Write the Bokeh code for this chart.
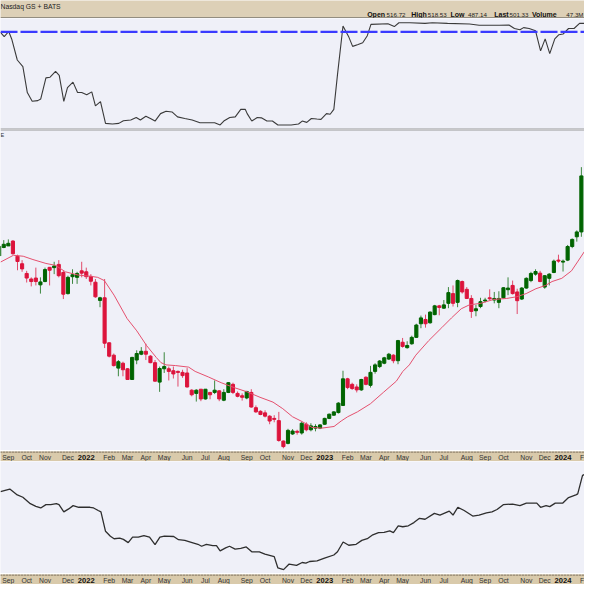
from bokeh.plotting import figure
from bokeh.layouts import column
from bokeh.models import ColumnDataSource, Range1d, Label, Span
from bokeh.core.properties import value
from bokeh.embed import file_html
from bokeh.resources import INLINE

# ---------------- data (weekly bars, week 0 = 2021-08-30) ----------------
opens = [207,215.7,217.3,222.3,206.7,199,189,183.3,184.3,177.3,
         180.7,195.3,195,198.3,190,168.3,185.7,185,191.7,190.7,
         186,180,161.3,164,117.7,105,91.7,96.7,91,80,
         100,106,109,104,97.3,77.3,91,91,89,88.3,
         87.3,86.7,69,65.7,70,60,66.7,66.7,68.3,58.7,
         66.7,75,65.7,63.3,61,66.7,51,47.3,45.7,42.3,
         40,37.7,16.7,14.3,24,26.7,25,34,28.3,30,
         30,34,40,43.3,46,53.3,80.7,75,72.3,69.3,
         82.3,74,88.3,93.3,96.7,101,105,99.3,118.3,112.7,
         116.7,123.3,137.3,141.7,138.3,146.7,155.7,153.3,158.3,168.3,
         159.3,180.7,172.7,163.3,150.7,155,160.7,164,161.7,159.3,
         164,172.3,176.7,170,162.7,174,181.7,188.3,189.3,175,
         184,190,202.7,200.7,202.7,216.7,226.7,231.7]
highs = [219,223.3,224,223.3,208.3,202.7,191.7,185,195,185,
         195,195.7,201,202.7,191.7,186.7,193.3,190.7,201,195,
         188.3,183.3,165,183.3,118.3,106.7,100,98.3,91.7,103.3,
         110,113.3,116.7,105,100,93.3,108,93.3,93.3,89.3,
         90,91.7,70,70,70,70,67.3,79,69,70,
         77.3,76.7,67.7,65.7,68.3,70,53.3,48.3,48.3,43.3,
         43.3,46.7,17.3,29.3,29,28.3,36.7,36,35,34,
         34,40.7,45,47.3,56.7,89,81.7,76.7,75,80.7,
         83.3,94,96.7,100,103.3,107.3,106,120.7,122.7,119.3,
         125,137.3,145.7,146.7,150,156.7,156.7,161.7,175,176.7,
         182.7,181.7,175,166.7,156.7,164,164,172.7,170,170.7,
         175,185,181.7,173.3,175,185,190.7,193.3,191.7,187.3,
         189.3,203.3,208.3,203.3,218.3,225,233.3,298.3]
lows = [205,215,217.3,208.3,192.3,190.7,179.7,175.7,176.7,168.3,
        180,176.7,188.3,185,162.7,167.3,178.3,178.3,185,183.3,
        176.7,164,154.3,112.3,102.7,93.3,83.3,83.3,80,80,
        95.7,105,100,96.7,77.7,67.3,86.7,79,81,72.7,
        81.7,71.7,62.7,57.3,57.7,59.3,59.7,65,57.7,57.7,
        66,65,61.7,58.3,59.7,51,45.7,43.3,41,34,
        36,16,9.3,13.3,23,23.3,23.3,26.7,26.7,26.7,
        29,33.3,39.3,42.7,45,52.7,70,69.3,66.7,68.3,
        74,71.7,86,91.7,95.7,100,96.7,95.7,112.7,111.7,
        115.7,122.7,132.7,133.3,137.3,146,146,152.7,153.3,155,
        154.3,168.3,162.7,143.3,145,153.3,159.3,161.7,158.3,153.3,
        163.3,166.7,167.3,147.3,161.7,173.3,180,186.7,180,173.3,
        176.7,189.3,200,191,201.7,215,221.7,226.7]
closes = [217,219,220,209.3,201.3,193.7,184.3,180.7,180.7,180.3,
          193,192.3,196.7,186.7,167.7,185,187.7,189,189.3,185.7,
          181,165,164,117.3,104,94.3,98.3,90,80,102.7,
          106.7,109,106,97.3,78.3,91.3,93.3,88.3,85.7,87.3,
          84,72.3,64.3,69,60,70,64.3,69,60,66.7,
          76.7,66.7,62.7,61.7,67.7,51.7,46.7,44,42.3,37.3,
          39,17.3,11,27.7,27,25.7,35,28.3,32.3,31.7,
          33.3,40,44.3,46.7,55.7,80.7,71.7,70.7,69.3,80,
          75,87.3,95,99,102.3,106,99.3,120,114,115,
          123.3,136,143.3,137.3,149.3,155.7,154,156.7,169.3,158.3,
          181.7,170,163.3,150,152.7,160,161.7,163,163.3,163.3,
          174.3,174,168.3,161,174,184,189,191,180.7,186.7,
          188.3,201.7,201.7,201.7,216.7,224,231.7,289.3]

ma_week = [0.29,3.12,5.25,7.37,10.2,12.3,14.45,17.28,20.1,21.5,
           22.94,25.06,27.9,30.02,32.14,34.26,35.3,36.4,38.5,41.34,
           42.75,45.6,48.42,51.25,54.08,56.9,59.74,61.86,63.99,66.1,
           68.24,70.36,73.05,74.6,76.02,78.14,80.97,83.8,86.64,88.05,
           89.47,90.88,93.71,96.55,98.67,100.79,102.56,105.04,107.87,110.7,
           112.82,114.95,117.07,119.19,120.6,122.73,124.85,126.27,127.68]
ma_value = [200.7,207.7,206.7,203.3,199.3,197.3,190.7,187.3,186,185,
            181.7,166.7,142.7,130,115,102.7,97.3,95,94.3,92.7,
            88.3,82.7,76.7,71.7,67.3,61.7,56.7,50,41.7,36.7,
            30.7,30,31.7,37.3,41.7,46.7,55,66.7,78.3,88.3,
            95,105,120,133.3,143.3,152.7,156.7,158.3,162.3,163.3,
            165,168.3,173.3,176.7,180.7,184,191.7,201.7,211.7]

upper_week = [0.29,1.1,2.08,2.73,3.95,5.17,6.14,7.2,8.42,9.07,
              10.2,11.1,12.3,13.1,14.1,14.9,16.1,17.1,18,19.1,
              20.2,21,22.1,23.2,24.7,26.1,27.1,28.7,29.9,30.8,
              32,33.2,34,35.2,36.4,37.7,38.9,40.5,42.1,43.8,
              45.8,47,48.2,49,50.3,51.5,52.7,53.7,54.1,55.1,
              56.3,57.2,58.4,59.6,60.8,62,63.7,65.3,66.1,67.1,
              68.1,69.3,70.2,71.4,72.2,73,73.8,75,76.3,77.1,
              78.3,79.3,80.3,81.1,84.8,86.2,87.2,89.6,92.9,94.5,
              97.8,102.6,104.7,109.1,111.2,112.4,113.6,114.4,115.6,117,
              118.1,119.1,120.1,121.2,122.1,123,124.2,125.4,126.6,127.7]
upper_value = [87.4,83.6,88.3,81.6,62.6,56.7,33.3,25.4,26,27.5,
               46.5,47.1,52.3,48.8,25.4,37.7,42.7,33.3,33.3,31.3,
               33.9,21.3,25.1,5.5,5,5.5,7.9,8.5,10.8,8.5,
               12,9.4,7.6,14.3,16.4,15.8,11.4,9.9,8.5,6.1,
               6.1,6.1,4.1,7.6,10.8,11.4,18.1,18.1,14.3,7.6,
               10.8,10.5,7.6,7.6,4.1,4.1,4.1,5,7.6,6.4,
               9.9,9.4,9.1,14.3,13.7,18.1,49.4,93.3,83,74.9,
               76.6,78.1,84.5,94.7,95.3,92.7,96.2,96.2,95.6,96.2,
               95.6,95,93.9,93.9,94.2,91,89.8,91.8,91,88.9,
               70.8,81.6,68.4,81.6,85.4,86,91,91,95.6,95.6]
upper_level = 88

lower_week = [0.29,2.32,3.95,5.17,6.79,8.01,9.07,10.2,11.26,12.48,
              13.05,14.1,15.16,16.13,17.35,19.8,20.6,21.6,22.2,23.2,
              24.26,25.07,26.3,27.1,28.15,29.1,30.35,31.57,32.8,34,
              35.06,36.04,38.07,39.12,40.5,41.72,43.35,44.16,45.2,46.6,
              47.4,48.2,49.4,50.25,51.47,52.7,53.9,55.1,56.75,57.97,
              60,60.8,62.03,63.25,64.87,66.1,66.9,67.72,69.34,70.97,
              73,73.8,75.03,76.25,77.87,79.1,80.3,81.5,82.75,83.97,
              85.2,86,87.05,88.03,89.25,90.47,91.68,92.9,94.93,96.15,
              98.18,99,100.05,101.43,103.3,104.68,106.3,107.5,108.6,109.96,
              112,113.6,115,117.27,118.1,119.3,120.1,121.3,122.96,124.2,
              125.8,126.2,127.25,127.67]
lower_value = [84,86.7,80.7,78.3,71.7,69,67.3,70.7,70.7,71.7,
               70.7,63.3,66.3,69.7,68,68,67.3,64.7,63.3,43.3,
               38.3,35.7,36.3,35,31.7,37.3,37.3,39,37.3,29.7,
               37.3,38.3,38,34.7,34,32.3,30,28,30,28.7,
               28.7,23.3,26.3,28,25,25.7,27.3,22.3,22.3,20,
               17.3,5.7,4,9.7,8.3,11.3,10.7,12.3,13,15.7,
               19,22.3,32.3,29,30,34,35.7,39.7,42,42.3,
               43.7,42,49,48,49,52.3,56.7,55.7,61.7,60,
               64,60,68,64.7,59,60,62.3,63.3,65.7,70.7,
               71.3,69.7,72.3,72.3,68,69.7,68.7,72.3,72.3,78,
               80.7,81.7,100.7,101.7]

month_week = [1,5,9,14,23,27,31,35,40,44,48,53,57,62,66,75,79,83,87,92,96,101,105,109,114,118,127]
month_label = ["Sep","Oct","Nov","Dec","Feb","Mar","Apr","May","Jun","Jul","Aug","Sep","Oct","Nov",
               "Dec","Feb","Mar","Apr","May","Jun","Jul","Aug","Sep","Oct","Nov","Dec","F"]
year_week = [18,70,122]
year_label = ["2022","2023","2024"]

exchange_text = "Nasdaq GS + BATS"
quote_names = ["Open","High","Low","Last","Volume"]
quote_values = ["516.72","518.53","487.14","501.33","47.3M"]

# ---------------- styling / layout ----------------
W = 584
PANEL_BG = "#eff0f8"
TAN = "#d9caab"
HEAD = "#ddd0b7"
UP = "#006400"
DOWN = "#dc143c"
FONT = "Liberation Sans"
X_MAX = 127.68

xr = Range1d(0.29, X_MAX)


def make_fig(h, yr, bg=PANEL_BG, x_range=None):
    f = figure(width=W, height=h, x_range=x_range if x_range is not None else xr, y_range=yr,
               toolbar_location=None, output_backend="svg",
               x_axis_location=None, y_axis_location=None, min_border=0,
               background_fill_color=bg, border_fill_color=bg, outline_line_color=None)
    f.xgrid.visible = False
    f.ygrid.visible = False
    return f


# header (x in reference-pixel units 0..600)
head = make_fig(18, Range1d(0, 18), bg=HEAD, x_range=Range1d(0, 600))
head.add_layout(Label(x=0, y=11.8, text=exchange_text, text_font=FONT, text_font_size="6.8px",
                      text_baseline="middle", text_color="#222222"))
name_x = [376.7, 422, 462.3, 507.3, 546]
val_x = [396.7, 439, 480.3, 523, None]
for nm, vl, nx, vx in zip(quote_names, quote_values, name_x, val_x):
    head.add_layout(Label(x=nx, y=3.6, text=nm, text_font=FONT, text_font_size="7px",
                          text_font_style="bold", text_baseline="middle", text_color="#111111"))
    if vx is None:
        head.add_layout(Label(x=599, y=3.6, text=vl, text_font=FONT, text_font_size="6.2px",
                              text_align="right", text_baseline="middle", text_color="#222222"))
    else:
        head.add_layout(Label(x=vx, y=3.6, text=vl, text_font=FONT, text_font_size="6.2px",
                              text_baseline="middle", text_color="#222222"))
head.add_layout(Span(location=0.45, dimension="width", line_color="#4a4a4a", line_width=1.2))

# upper indicator panel
up = make_fig(111, Range1d(0, 100))
up.line(upper_week, upper_value, line_color="#3a3a3a", line_width=1.1)
up.add_layout(Span(location=upper_level, dimension="width", line_color="#3a3aff",
                   line_width=2.2, line_dash="17 3"))
up.add_layout(Span(location=0, dimension="width", line_color="#9a9a9a", line_width=2))

# main candle panel
src = ColumnDataSource(dict(
    x=list(range(len(opens))), o=opens, h=highs, l=lows, c=closes,
    top=[max(a, b) for a, b in zip(opens, closes)],
    bot=[min(a, b) for a, b in zip(opens, closes)],
    col=[UP if c >= o else DOWN for o, c in zip(opens, closes)],
))
main = make_fig(321, Range1d(7, 337))
main.segment(x0="x", y0="l", x1="x", y1="h", source=src, line_color="col", line_width=1, line_alpha=0.75)
main.vbar(x="x", top="top", bottom="bot", width=0.68, source=src, fill_color="col", line_color="col",
          line_width=1)
main.line(ma_week, ma_value, line_color="#e5506e", line_width=1)
main.add_layout(Span(location=337, dimension="width", line_color="#9a9a9a", line_width=2))
main.add_layout(Label(x=0.29, y=331, text="E", text_font=FONT, text_font_size="5.5px",
                      text_baseline="middle", text_color="#333333"))


def make_strip():
    s = make_fig(11, Range1d(0, 1), bg=TAN)
    s.text(x=[min(w + 1.0, X_MAX - 0.55) for w in month_week], y=[0.45] * len(month_week), text=month_label,
           text_font=value(FONT), text_font_size="6.8px", text_align="center", text_baseline="middle",
           text_color="#333333")
    s.text(x=[w + 1.0 for w in year_week], y=[0.45] * len(year_week), text=year_label,
           text_font=value(FONT), text_font_size="7.6px", text_font_style="bold", text_align="center",
           text_baseline="middle", text_color="#111111")
    for loc in (0.96, 0.04):
        s.add_layout(Span(location=loc, dimension="width", line_color="#a1937a", line_width=1))
        s.add_layout(Span(location=loc, dimension="width", line_color="#3d3528", line_width=1,
                          line_dash="1 2"))
    return s


strip1 = make_strip()

# lower panel
low = make_fig(112, Range1d(0, 115))
low.line(lower_week, lower_value, line_color="#2e2e2e", line_width=1.3)

strip2 = make_strip()

layout = column(head, up, main, strip1, low, strip2, spacing=0)

with open("out.html", "w") as fh:
    fh.write(file_html(layout, INLINE))
